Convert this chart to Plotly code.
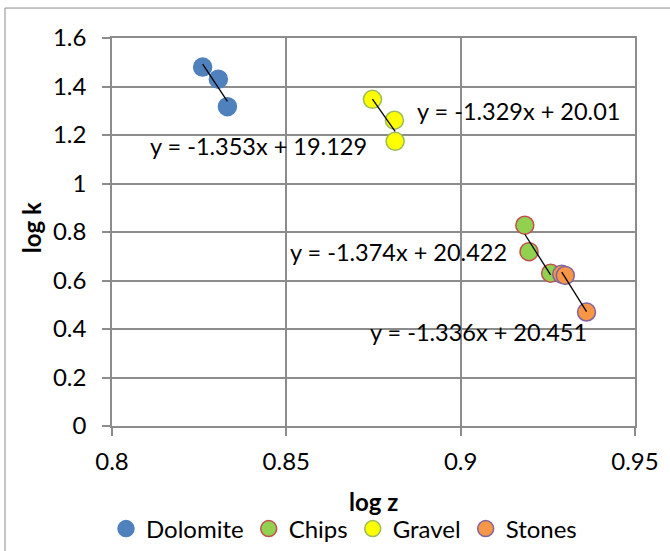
import numpy as np
import plotly.graph_objects as go

# ---- data ----
series_names = ["Dolomite", "Chips", "Gravel", "Stones"]
dolomite_x = [0.8260, 0.8305, 0.8331]
dolomite_y = [1.480, 1.430, 1.317]
chips_x = [0.9184, 0.9196, 0.9258]
chips_y = [0.828, 0.719, 0.630]
gravel_x = [0.8747, 0.8810, 0.8812]
gravel_y = [1.347, 1.261, 1.174]
stones_x = [0.9290, 0.9300, 0.9361]
stones_y = [0.626, 0.621, 0.470]

equation_texts = ["y = -1.353x + 19.129", "y = -1.374x + 20.422",
                  "y = -1.329x + 20.01", "y = -1.336x + 20.451"]
equation_x = [0.8419, 0.8823, 0.9165, 0.9051]
equation_y = [1.156, 0.717, 1.297, 0.386]

x_ticks = [0.8, 0.85, 0.9, 0.95]
x_tick_labels = ["0.8", "0.85", "0.9", "0.95"]
y_ticks = [0, 0.2, 0.4, 0.6, 0.8, 1.0, 1.2, 1.4, 1.6]
y_tick_labels = ["0", "0.2", "0.4", "0.6", "0.8", "1", "1.2", "1.4", "1.6"]
x_title = "log z"
y_title = "log k"

# ---- styles ----
fills = ["#4F81BD", "#92D050", "#FFFF00", "#F79646"]
outlines = ["#4F81BD", "#C0504D", "#9BBB59", "#8064A2"]
FONT = "Lato"
FS = 24
GRID = "#8C8C8C"

xs = [dolomite_x, chips_x, gravel_x, stones_x]
ys = [dolomite_y, chips_y, gravel_y, stones_y]

fig = go.Figure()
for name, x, y, fc, oc in zip(series_names, xs, ys, fills, outlines):
    fig.add_trace(go.Scatter(
        x=x, y=y, mode="markers", name=name,
        marker=dict(size=18, color=fc, line=dict(color=oc, width=1.5)),
    ))

# linear trendlines fitted from the data, drawn over each series' x range
for x, y in zip(xs, ys):
    m, b = np.polyfit(x, y, 1)
    xx = np.array([min(x), max(x)])
    fig.add_trace(go.Scatter(
        x=xx, y=m * xx + b, mode="lines", showlegend=False,
        line=dict(color="black", width=1.3), hoverinfo="skip",
    ))

for t, ex, ey in zip(equation_texts, equation_x, equation_y):
    fig.add_annotation(x=ex, y=ey, text=t, showarrow=False,
                       xanchor="center", yanchor="middle",
                       font=dict(family=FONT, size=23.5, color="black"))

PL, PR, PT, PB = 112, 635, 38, 426.5
W, H = 670, 551
pw, ph = PR - PL, PB - PT

def px(xp):
    return (xp - PL) / pw

def py(yp):
    return (PB - yp) / ph

# axis titles
fig.add_annotation(xref="paper", yref="paper", x=px(373.5), y=py(502),
                   xanchor="center", yanchor="middle",
                   text="<b>%s</b>" % x_title, showarrow=False,
                   font=dict(family=FONT, size=FS, color="black"))
fig.add_annotation(xref="paper", yref="paper", x=px(31.5), y=py(228),
                   xanchor="center", yanchor="middle",
                   text="<b>%s</b>" % y_title, showarrow=False, textangle=-90,
                   font=dict(family=FONT, size=FS, color="black"))

fig.add_shape(type="rect", xref="paper", yref="paper",
              x0=px(5), x1=px(W + 5), y0=py(H + 5), y1=py(8),
              line=dict(color="#8C8C8C", width=1), fillcolor="rgba(0,0,0,0)")

axis_common = dict(
    showgrid=True, gridcolor=GRID, gridwidth=1.5,
    showline=True, linecolor=GRID, linewidth=1.5, mirror=True,
    ticks="outside", ticklen=8, tickcolor=GRID, tickwidth=1.5,
    zeroline=False, automargin=False,
    tickfont=dict(family=FONT, size=FS, color="black"),
)

fig.update_layout(
    width=W, height=H,
    margin=dict(l=PL, r=W - PR, t=PT, b=H - PB, autoexpand=False),
    paper_bgcolor="white", plot_bgcolor="white",
    font=dict(family=FONT, size=FS, color="black"),
    xaxis=dict(range=[0.8, 0.95], tickvals=x_ticks, ticktext=x_tick_labels,
               ticklabelstandoff=5, **axis_common),
    yaxis=dict(range=[0, 1.6], tickvals=y_ticks, ticktext=y_tick_labels,
               ticklabelstandoff=11, **axis_common),
    legend=dict(orientation="h", xref="container", yref="container",
                x=106 / W, xanchor="left", y=1 - 529 / H, yanchor="middle",
                font=dict(family=FONT, size=FS), bgcolor="rgba(0,0,0,0)"),
    showlegend=True,
)

fig.write_html("out.html", config={"displayModeBar": False},
               post_script="document.body.style.margin='0';document.body.style.overflow='hidden';")
